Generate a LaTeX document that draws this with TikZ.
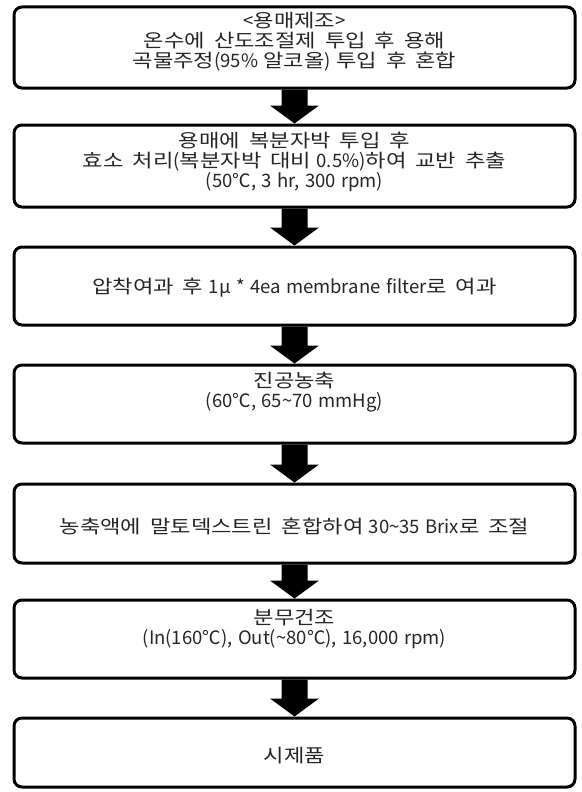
\documentclass[tikz,border=0pt]{standalone}
\usepackage{fontspec}
\setmainfont{Noto Sans CJK KR}[WordSpace=1.3]
\newfontfamily\krfont{Noto Sans CJK KR}[FakeStretch=1.2, WordSpace=1.8]
\newcommand\krt[1]{{\krfont #1}}
\usetikzlibrary{calc}
\newcommand\flowarr[2]{%
  \fill[black] let \p1=(#1.south), \p2=(#2.north) in
    (\x1-13pt,\y1) -- (\x1-13pt,\y2+18pt) -- (\x1-24.5pt,\y2+18pt) -- (\x1,\y2)
    -- (\x1+24.5pt,\y2+18pt) -- (\x1+13pt,\y2+18pt) -- (\x1+13pt,\y1) -- cycle;}
\begin{document}
\begin{tikzpicture}[x=1pt,y=-1pt,
  stepbox/.style={draw=black, line width=3pt, rounded corners=8pt,
    minimum width=561pt, inner sep=0pt, fill=white},
  lbl/.style={align=center, font=\fontsize{18.5}{20}\selectfont,
    text=black!85, inner sep=0pt}]
\useasboundingbox (0,0) rectangle (581,792);
\node[stepbox, minimum height=81pt] (b1) at (294.5,47.5) {};
\node[stepbox, minimum height=82pt] (b2) at (294.5,166) {};
\node[stepbox, minimum height=78pt] (b3) at (294.5,286) {};
\node[stepbox, minimum height=78pt] (b4) at (294.5,404) {};
\node[stepbox, minimum height=79pt] (b5) at (294.5,523.5) {};
\node[stepbox, minimum height=78pt] (b6) at (294.5,639) {};
\node[stepbox, minimum height=69pt] (b7) at (294.5,752.5) {};
\node[lbl] (t1) at (294.5,41.5) {<\krt{용매제조}>\\\krt{온수에 산도조절제 투입 후 용해}\\\krt{곡물주정}(95\% \krt{알코올}) \krt{투입 후 혼합}};
\node[lbl] (t2) at (294.5,161.5) {\krt{용매에 복분자박 투입 후}\\\krt{효소 처리}(\krt{복분자박 대비} 0.5\%)\krt{하여 교반 추출}\\(50℃, 3 hr, 300 rpm)};
\node[lbl] (t3) at (294.5,288) {\krt{압착여과 후} 1μ * 4ea membrane filter\krt{로 여과}};
\node[lbl] (t4) at (294.5,392.5) {\krt{진공농축}\\(60℃, 65\textasciitilde 70 mmHg)};
\node[lbl] (t5) at (294.5,526) {\krt{농축액에 말토덱스트린 혼합하여} 30\textasciitilde 35 Brix\krt{로 조절}};
\node[lbl] (t6) at (294.5,629) {\krt{분무건조}\\(In(160℃), Out(\textasciitilde 80℃), 16,000 rpm)};
\node[lbl] (t7) at (294.5,756) {\krt{시제품}};
\flowarr{b1}{b2}
\flowarr{b2}{b3}
\flowarr{b3}{b4}
\flowarr{b4}{b5}
\flowarr{b5}{b6}
\flowarr{b6}{b7}
\end{tikzpicture}
\end{document}
